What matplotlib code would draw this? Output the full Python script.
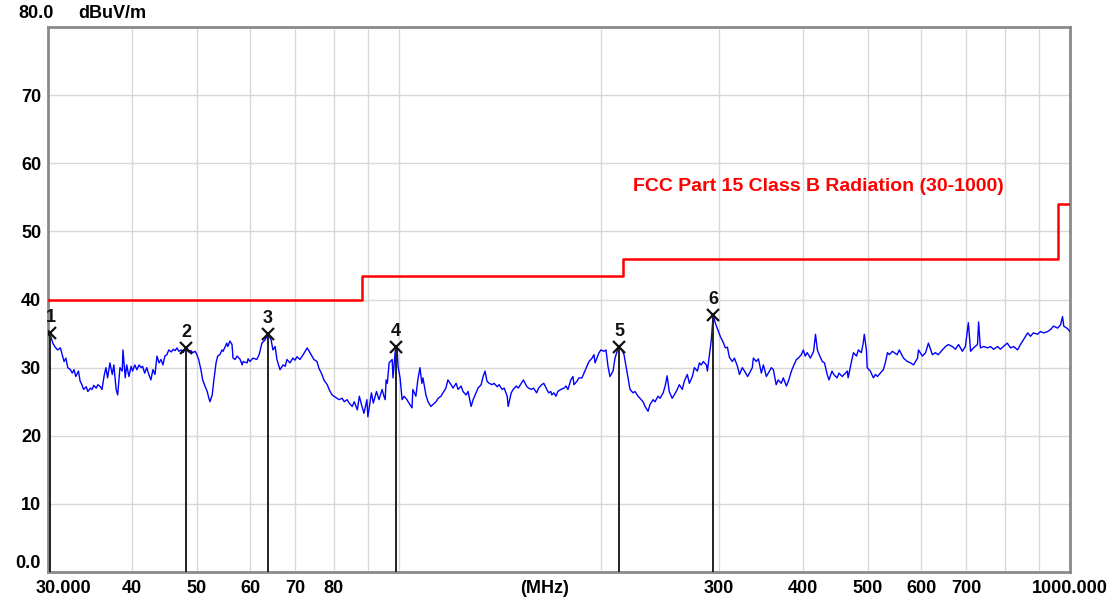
import matplotlib
matplotlib.use("Agg")
import matplotlib.pyplot as plt
from matplotlib.ticker import FixedLocator, NullFormatter
from matplotlib.transforms import ScaledTranslation

freq_mhz = [
    30.2, 30.5, 30.7, 31.0, 31.3, 31.5, 31.7, 31.9, 32.1, 32.4, 32.6, 32.8, 33.0, 33.3, 33.5,
    33.7, 33.9, 34.2, 34.4, 34.7, 34.9, 35.1, 35.4, 35.6, 35.9, 36.1, 36.4, 36.6, 36.8, 37.1,
    37.4, 37.6, 37.9, 38.1, 38.4, 38.7, 38.8, 39.1, 39.3, 39.6, 39.9, 40.1, 40.4, 40.7, 41.0,
    41.3, 41.5, 41.8, 42.1, 42.4, 42.7, 43.0, 43.3, 43.6, 43.9, 44.2, 44.5, 44.8, 45.1, 45.4,
    45.8, 46.1, 46.4, 46.7, 47.0, 47.4, 47.7, 48.0, 48.2, 48.3, 48.6, 49.0, 49.3, 49.7, 50.0,
    50.3, 50.7, 51.0, 51.4, 51.8, 52.1, 52.3, 52.7, 53.0, 53.4, 53.7, 54.1, 54.5, 54.7, 55.4,
    55.6, 56.0, 56.4, 56.6, 57.0, 57.4, 58.0, 58.4, 58.6, 59.4, 59.6, 60.0, 60.6, 61.4, 61.9,
    62.5, 63.2, 63.8, 64.5, 64.9, 65.4, 65.8, 66.5, 67.2, 67.7, 68.1, 68.8, 69.5, 70.0, 70.5,
    71.2, 72.0, 72.5, 73.0, 73.5, 74.2, 74.7, 75.5, 76.0, 76.8, 77.3, 78.2, 78.7, 79.5, 80.0,
    80.9, 81.4, 82.3, 82.9, 83.7, 84.3, 85.2, 85.8, 86.7, 87.3, 88.1, 88.7, 89.6, 89.9, 91.0,
    91.6, 92.6, 93.4, 94.4, 95.0, 95.4, 95.7, 96.1, 96.7, 97.7, 98.0, 98.7, 99.0, 99.4, 99.7,
    100.4, 101.1, 101.8, 102.8, 103.5, 104.6, 104.9, 106.0, 106.7, 107.5, 108.2, 108.6, 109.7, 110.5, 111.6,
    112.4, 113.6, 114.4, 115.5, 116.3, 117.5, 118.3, 119.6, 120.4, 121.7, 122.5, 123.8, 124.6, 125.9, 126.8,
    128.1, 129.0, 130.3, 131.2, 132.6, 133.5, 134.4, 135.3, 136.3, 137.7, 138.6, 140.1, 141.0, 142.5, 143.5,
    145.0, 145.5, 147.0, 148.0, 149.6, 150.6, 152.2, 153.3, 154.9, 156.0, 157.6, 158.7, 160.4, 161.5, 163.2,
    164.4, 166.1, 167.2, 168.4, 169.0, 170.2, 171.4, 172.5, 174.3, 176.2, 177.4, 178.6, 180.4, 181.7, 182.3,
    184.2, 185.5, 187.4, 188.7, 190.6, 192.0, 194.0, 195.3, 196.0, 197.3, 198.7, 200.0, 202.1, 203.5, 204.9,
    206.3, 208.5, 209.9, 211.4, 212.8, 215.0, 216.5, 218.0, 219.5, 221.0, 223.3, 224.8, 227.2, 228.7, 231.1,
    232.7, 235.1, 236.7, 239.2, 240.8, 243.3, 245.0, 247.6, 249.3, 251.0, 252.8, 255.4, 257.2, 259.9, 261.7,
    264.4, 266.2, 269.0, 270.9, 273.7, 275.6, 278.5, 280.4, 282.2, 284.2, 287.2, 288.2, 290.1, 292.1, 294.0,
    296.0, 298.1, 301.2, 304.6, 306.5, 308.7, 310.8, 314.0, 316.2, 319.5, 321.7, 324.9, 327.3, 330.8, 333.0,
    336.2, 337.4, 340.9, 343.3, 346.8, 349.2, 352.8, 355.2, 358.9, 361.4, 364.9, 367.4, 371.3, 373.9, 377.9,
    380.5, 384.5, 387.1, 391.1, 393.8, 397.8, 400.5, 403.2, 405.9, 410.4, 414.9, 417.6, 420.3, 423.0, 427.5,
    430.7, 434.7, 437.4, 441.9, 444.6, 449.6, 452.7, 457.7, 460.8, 465.8, 467.1, 472.5, 475.7, 480.6, 483.8,
    488.7, 491.9, 493.7, 497.3, 498.6, 504.0, 509.4, 513.0, 516.6, 521.6, 527.0, 530.6, 534.6, 538.2, 543.6,
    547.2, 552.6, 556.7, 564.8, 572.4, 578.7, 584.6, 592.7, 594.5, 602.6, 609.3, 615.2, 623.7, 630.0, 636.3,
    645.3, 652.5, 658.8, 667.8, 675.0, 682.2, 691.2, 698.4, 705.6, 711.0, 718.2, 728.1, 730.8, 735.3, 743.4,
    754.2, 761.4, 769.5, 780.3, 787.5, 795.6, 806.4, 815.4, 824.4, 835.2, 843.8, 852.3, 864.9, 873.0, 882.0,
    894.6, 903.6, 913.7, 926.1, 935.6, 945.0, 958.5, 968.2, 974.7, 978.8, 992.3, 1000.0,
]
level_dbuv = [
    35.0, 33.6, 33.1, 32.6, 32.9, 31.9, 30.9, 31.4, 30.0, 29.7, 29.2, 29.7, 28.7, 29.5, 28.0,
    27.5, 26.8, 27.2, 26.5, 27.0, 26.8, 27.4, 27.0, 27.5, 27.2, 26.8, 29.0, 30.0, 28.5, 30.7,
    29.0, 30.4, 26.8, 26.0, 30.0, 29.5, 32.6, 28.5, 30.4, 28.7, 30.2, 29.5, 30.4, 29.7, 30.4,
    30.0, 30.2, 29.2, 30.0, 29.0, 28.2, 29.7, 29.0, 31.7, 30.7, 31.2, 30.4, 31.7, 31.9, 32.6,
    32.3, 32.7, 32.5, 32.9, 32.4, 32.6, 32.2, 32.7, 32.9, 32.6, 32.3, 32.5, 32.2, 32.4, 31.9,
    31.2, 29.7, 28.2, 27.3, 26.5, 25.5, 25.0, 26.0, 28.2, 30.7, 31.7, 31.9, 32.6, 32.4, 33.6,
    33.1, 33.9, 33.4, 31.4, 31.2, 31.7, 31.2, 30.4, 30.9, 30.7, 31.3, 30.9, 31.4, 31.2, 31.9,
    33.6, 34.1, 34.9, 34.1, 32.6, 33.1, 31.2, 29.7, 30.4, 30.2, 31.2, 30.7, 31.4, 31.1, 31.6,
    31.2, 31.9, 32.4, 32.9, 32.4, 31.7, 31.2, 30.9, 29.9, 29.0, 28.2, 27.5, 26.8, 26.0, 25.8,
    25.5, 25.3, 25.5, 25.0, 25.3, 24.8, 24.3, 25.0, 23.8, 25.8, 24.3, 23.3, 25.3, 22.8, 26.3,
    24.8, 26.5, 25.3, 26.8, 25.8, 25.3, 28.2, 27.7, 30.7, 31.2, 28.5, 32.2, 33.1, 32.6, 30.2,
    28.5, 25.3, 25.8, 25.3, 24.8, 24.1, 26.8, 25.8, 28.2, 30.0, 27.7, 28.5, 26.0, 25.0, 24.3,
    24.6, 25.0, 25.5, 25.8, 26.3, 27.0, 28.2, 27.5, 27.0, 27.7, 26.8, 27.3, 26.5, 26.0, 26.5,
    24.3, 25.3, 26.3, 27.0, 27.5, 28.7, 29.5, 28.0, 27.7, 27.5, 27.7, 27.2, 27.5, 26.8, 27.0,
    25.8, 24.3, 26.3, 26.8, 27.3, 27.0, 27.7, 28.2, 27.3, 27.0, 26.8, 27.0, 26.3, 27.0, 27.5,
    27.7, 26.8, 26.3, 26.5, 26.0, 26.3, 25.8, 26.5, 26.8, 27.0, 27.3, 26.8, 28.2, 28.7, 27.5,
    28.0, 28.5, 28.5, 29.2, 30.2, 30.9, 31.4, 31.9, 30.7, 31.4, 32.2, 32.6, 32.4, 32.6, 30.2,
    28.7, 29.5, 31.4, 32.4, 33.1, 32.6, 31.9, 30.2, 28.5, 26.8, 26.3, 26.5, 25.8, 25.5, 25.0,
    24.3, 23.6, 24.6, 25.3, 25.0, 25.8, 25.5, 26.3, 27.3, 28.8, 26.5, 25.5, 26.0, 26.8, 27.5,
    26.8, 28.0, 29.0, 27.7, 28.7, 30.0, 29.5, 30.7, 30.4, 30.9, 30.4, 29.5, 31.7, 34.1, 37.8,
    36.6, 35.8, 34.6, 33.6, 32.9, 33.0, 31.5, 30.9, 31.4, 30.2, 29.0, 30.0, 29.5, 28.7, 29.2,
    30.0, 31.4, 30.9, 31.3, 29.2, 30.4, 28.7, 29.2, 30.0, 29.7, 27.5, 28.2, 27.7, 28.5, 27.3,
    28.0, 29.5, 30.2, 31.2, 31.4, 31.9, 32.6, 31.7, 32.2, 31.4, 32.4, 34.9, 32.6, 31.9, 30.9,
    30.7, 29.0, 28.2, 29.5, 29.0, 28.5, 29.2, 28.7, 29.0, 29.5, 28.5, 30.9, 32.2, 31.7, 32.6,
    32.2, 33.6, 34.9, 32.6, 30.0, 29.5, 28.5, 29.0, 28.7, 29.2, 29.7, 30.7, 32.2, 31.9, 32.4,
    32.2, 31.9, 32.6, 31.4, 30.9, 30.7, 30.4, 31.4, 32.6, 31.7, 32.2, 33.6, 31.9, 32.2, 31.9,
    32.6, 33.1, 33.4, 33.1, 32.7, 33.4, 32.4, 33.1, 36.6, 32.4, 32.9, 33.4, 36.7, 32.9, 33.1,
    32.9, 33.1, 32.7, 33.1, 32.7, 33.1, 33.6, 32.9, 33.1, 32.6, 33.4, 34.1, 35.1, 34.6, 35.1,
    34.9, 35.3, 35.1, 35.3, 35.6, 36.1, 35.8, 36.3, 37.5, 36.1, 35.7, 35.3,
]

# FCC Part 15 class B limit (step edges)
limit_freq = [30, 88, 216, 960, 1000]
limit_level = [40, 43.5, 46, 54, 54]

# peak markers
marker_freq = [30.25, 48.2, 63.8, 99.0, 212.8, 294.0]
marker_level = [35.1, 32.9, 34.9, 33.1, 33.1, 37.8]
marker_names = ["1", "2", "3", "4", "5", "6"]

x_label_pos = [30, 40, 50, 60, 70, 80, 165, 300, 400, 500, 600, 700, 1000]
x_label_txt = ["30.000", "40", "50", "60", "70", "80", "(MHz)",
               "300", "400", "500", "600", "700", "1000.000"]
x_grid = [40, 50, 60, 70, 80, 90, 100, 200, 300, 400, 500, 600, 700, 800, 900]
y_ticks = [0, 10, 20, 30, 40, 50, 60, 70]
y_tick_txt = ["0.0", "10", "20", "30", "40", "50", "60", "70"]
y_grid = [10, 20, 30, 40, 50, 60, 70]

plt.rcParams['font.family'] = ['Liberation Sans', 'DejaVu Sans']

fig = plt.figure(figsize=(11.14, 6.02), dpi=100)
ax = fig.add_axes([0.0431, 0.0498, 0.9174, 0.9053])
ax.set_xscale('log')
ax.set_xlim(30, 1000)
ax.set_ylim(0, 80)

# labels on major ticks, grid on minor ticks
ax.xaxis.remove_overlapping_locs = False
ax.yaxis.remove_overlapping_locs = False
ax.xaxis.set_major_locator(FixedLocator(x_label_pos))
ax.set_xticklabels(x_label_txt)
ax.xaxis.set_minor_locator(FixedLocator(x_grid))
ax.xaxis.set_minor_formatter(NullFormatter())
ax.set_yticks(y_ticks)
ax.set_yticklabels(y_tick_txt)
ax.yaxis.set_minor_locator(FixedLocator(y_grid))
ax.yaxis.set_minor_formatter(NullFormatter())
ax.grid(False, which='major')
ax.grid(True, which='minor', color='#d8d8d8', linewidth=1.0)
ax.set_axisbelow(True)
ax.tick_params(which='both', length=0)
ax.tick_params(axis='x', pad=6, labelsize=13)
ax.tick_params(axis='y', pad=5, labelsize=13)
for lbl in ax.get_xticklabels() + ax.get_yticklabels():
    lbl.set_fontweight('bold')
ax.get_yticklabels()[0].set_va('bottom')
first = ax.get_xticklabels()[0]
first.set_transform(first.get_transform() + ScaledTranslation(0.15, 0, fig.dpi_scale_trans))
for sp in ax.spines.values():
    sp.set_color('#8a8a8a')
    sp.set_linewidth(2)

# limit line
ax.step(limit_freq, limit_level, where='post', color='#ff0000', linewidth=1.8, zorder=3)
ax.text(223, 56.6, "FCC Part 15 Class B Radiation (30-1000)", color='#ff0000',
        fontsize=14, fontweight='bold', ha='left', va='center')

# trace
ax.plot(freq_mhz, level_dbuv, color='#0000ff', linewidth=1.0, zorder=4)

# markers
ax.vlines(marker_freq, 0, marker_level, color='#222222', linewidth=1.4, zorder=5)
ax.plot(marker_freq, marker_level, linestyle='none', marker='x', color='#111111',
        markersize=9, markeredgewidth=1.6, zorder=6)
for f, v, name in zip(marker_freq, marker_level, marker_names):
    ax.annotate(name, (f, v), xytext=(0, 5), textcoords='offset points',
                ha='center', va='bottom', fontsize=13, fontweight='bold', color='#111111')

fig.text(18 / 1114, 1 - 13 / 602, "80.0", fontsize=13, fontweight='bold', ha='left', va='center')
fig.text(78 / 1114, 1 - 13 / 602, "dBuV/m", fontsize=13, fontweight='bold', ha='left', va='center')

fig.savefig("out.png", dpi=100)
